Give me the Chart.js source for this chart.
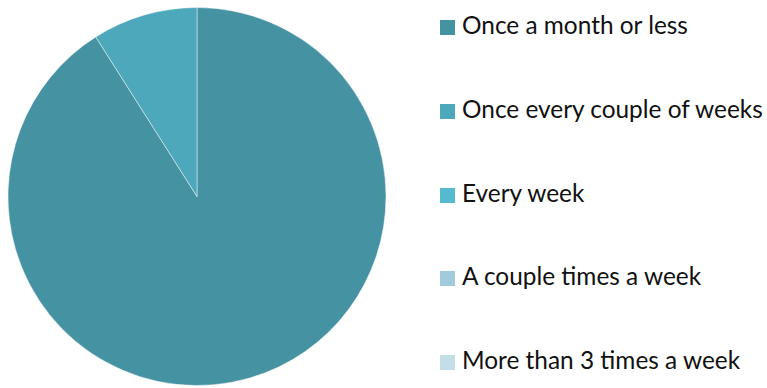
<!DOCTYPE html>
<html>
<head>
<meta charset="utf-8">
<script src="https://cdn.jsdelivr.net/npm/chart.js@4/dist/chart.umd.min.js"></script>
<style>
  html, body { margin: 0; padding: 0; background: #fff; }
  #wrap { position: relative; width: 767px; height: 388px; }
  #pieBox { position: absolute; left: 0; top: 0; width: 394px; height: 388px; }
  #legend { position: absolute; left: 440px; top: 0; margin: 0; padding: 0; list-style: none;
            font-family: Lato, "Open Sans", sans-serif; font-size: 24.4px; color: #111; }
  #legend li { position: absolute; left: 0; white-space: nowrap; height: 26px; line-height: 26px; }
  #legend span.box { display: inline-block; width: 15px; height: 15px; margin-right: 7px; vertical-align: -1px; }
</style>
</head>
<body>
<div id="wrap">
  <div id="pieBox"><canvas id="pieChart"></canvas></div>
  <ul id="legend"></ul>
</div>
<script>
// Frecuencia de uso
const categorias = ['Once a month or less', 'Once every couple of weeks', 'Every week', 'A couple times a week', 'More than 3 times a week'];
const porcentajes = [91, 9, 0, 0, 0];
const colores = ['#4592a3', '#4da8bb', '#55bad0', '#9fcbdb', '#c3dee7'];

const ctxPie = document.getElementById('pieChart').getContext('2d');
new Chart(ctxPie, {
    type: 'pie',
    data: {
        labels: categorias,
        datasets: [{
            data: porcentajes,
            backgroundColor: colores,
            borderColor: 'rgba(255, 255, 255, 0.45)',
            borderWidth: 1,
            hoverOffset: 0
        }]
    },
    options: {
        responsive: true,
        maintainAspectRatio: false,
        animation: false,
        layout: { padding: { top: 7, bottom: 2, left: 0, right: 0 } },
        plugins: {
            legend: { display: false },
            tooltip: { enabled: false }
        }
    }
});

// Leyenda a la derecha
const legend = document.getElementById('legend');
categorias.forEach((cat, i) => {
    const li = document.createElement('li');
    li.style.top = (12 + i * 83.75) + 'px';
    li.innerHTML = '<span class="box" style="background:' + colores[i] + '"></span>' + cat;
    legend.appendChild(li);
});
</script>
</body>
</html>
